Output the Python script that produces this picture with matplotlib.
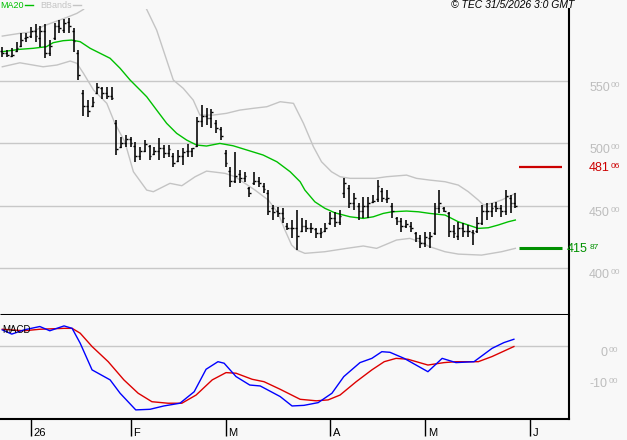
import matplotlib
matplotlib.use("Agg")   # no display in the sandbox
import matplotlib.pyplot as plt
from matplotlib.lines import Line2D

plt.rcParams["font.family"] = ["Liberation Sans", "DejaVu Sans"]

BG = "#f8f8f8"
GRID = "#c8c8c8"
LABEL_GREY = "#bdbdbd"

# ------------------------------------------------------------
# Daily OHLC (one bar per trading day)
# ------------------------------------------------------------
highs = [577.0, 574.6, 576.2, 581.0, 588.2, 588.2, 593.0, 595.4, 593.8, 595.4,
         582.6, 596.2, 598.6, 599.4, 600.2, 592.2, 574.6, 542.6, 534.5, 536.9,
         548.2, 545.0, 545.0, 545.0, 518.5, 504.9, 506.5, 504.9, 500.9, 496.9,
         502.5, 498.5, 496.9, 504.1, 498.5, 498.5, 492.1, 494.5, 496.1, 499.3,
         496.1, 520.9, 530.5, 528.1, 527.3, 518.5, 512.9, 494.5, 480.8, 492.9,
         478.4, 476.8, 464.8, 476.8, 472.8, 468.0, 462.4, 450.4, 448.8, 448.0,
         436.0, 438.4, 446.4, 440.0, 438.4, 436.0, 432.0, 432.0, 436.0, 444.8,
         444.8, 446.4, 472.0, 466.4, 460.0, 452.0, 456.8, 456.8, 458.4, 470.4,
         464.0, 462.4, 452.0, 440.8, 440.0, 438.4, 436.8, 428.8, 426.4, 428.8,
         428.8, 452.0, 462.4, 448.8, 444.8, 434.4, 436.8, 436.0, 434.4, 430.4,
         440.8, 450.4, 452.0, 452.0, 452.8, 450.4, 462.4, 458.4, 460.0]
lows = [569.0, 569.0, 569.0, 573.0, 577.0, 581.0, 584.2, 581.0, 577.0, 568.2,
        569.8, 582.6, 588.2, 588.2, 588.2, 573.0, 550.6, 521.7, 520.9, 528.9,
        539.3, 535.3, 535.3, 534.5, 490.5, 496.1, 496.9, 496.9, 484.9, 486.5,
        492.9, 486.5, 490.5, 486.5, 488.1, 488.9, 480.8, 484.9, 482.5, 488.9,
        488.9, 496.9, 512.9, 514.5, 512.1, 508.1, 502.5, 480.8, 464.8, 468.0,
        468.0, 468.8, 456.8, 466.4, 464.8, 460.0, 442.4, 438.4, 440.8, 436.0,
        430.4, 424.0, 414.4, 428.8, 428.8, 428.0, 424.0, 424.0, 428.8, 434.4,
        432.8, 434.4, 456.0, 448.0, 446.4, 438.4, 440.0, 440.0, 452.0, 452.8,
        452.8, 452.0, 440.0, 434.4, 428.8, 432.0, 428.8, 420.8, 416.0, 416.7,
        416.0, 426.4, 444.0, 444.8, 424.8, 424.0, 422.4, 424.8, 424.8, 418.4,
        428.0, 434.4, 438.4, 440.8, 444.8, 440.8, 442.4, 444.0, 448.0]
opens = [574, 572, 570, 574, 578, 584, 586, 590, 584, 590,
         572, 584, 594, 591, 597, 590, 572, 540, 530, 530,
         540, 544, 540, 538, 516, 497, 500, 503, 498, 490,
         494, 498, 491, 494, 496, 492, 490, 486, 490, 494,
         494, 498, 518, 522, 520, 516, 511, 492, 478, 470,
         475, 472, 464, 468, 470, 466, 460, 448, 446, 444,
         434, 432, 432, 430, 434, 432, 431, 428, 430, 436,
         440, 437, 460, 464, 452, 450, 446, 450, 453, 455,
         462, 455, 450, 440, 438, 434, 434, 428, 424, 420,
         424, 428, 448, 448, 444, 430, 426, 432, 430, 429,
         430, 436, 446, 446, 450, 448, 446, 456, 452]
closes = [572, 571, 571, 576, 583, 585, 590, 586, 590, 572,
          578, 594, 592, 596, 594, 582, 555, 530, 526, 533,
          545, 540, 538, 536, 495, 500, 503, 500, 490, 494,
          499, 490, 494, 496, 492, 495, 484, 490, 493, 494,
          496, 518, 522, 520, 525, 512, 506, 484, 470, 474,
          472, 474, 460, 470, 468, 463, 446, 445, 444, 440,
          432, 432, 426, 434, 432, 432, 428, 429, 432, 440,
          437, 442, 468, 452, 456, 446, 450, 452, 454, 466,
          456, 456, 446, 438, 434, 435, 432, 424, 420, 425,
          426, 448, 452, 446, 430, 428, 432, 430, 430, 428,
          436, 446, 446, 448, 448, 446, 458, 452, 450]

# MA20 and Bollinger bands, sampled along the curves (bar index, value)
ma20_idx = [0, 3.7, 6.5, 9.3, 10.7, 12.8, 14.6, 16.4, 18.5, 20.6, 22.7, 24.8,
            26.9, 29, 30.4, 32.5, 34.6, 36.7, 38.8, 40.9, 43, 45.8, 48.6, 51.5,
            54.9, 57.8, 60.6, 62.7, 63.7, 65.8, 67.9, 70, 73.2, 76, 78.1, 80.2,
            82, 85.1, 87.6, 90, 93.2, 96, 98.1, 100.2, 102.3, 104.4, 106.5, 108]
ma20_val = [573.3, 575.2, 576.0, 577.3, 580.5, 582.1, 582.6, 581.3, 576.0, 572.0,
            568.0, 560.0, 550.6, 542.6, 537.2, 526.5, 515.9, 507.9, 502.5, 498.5,
            497.7, 499.8, 497.9, 494.5, 490.5, 485.1, 477.1, 469.1, 462.4, 453.0,
            447.8, 444.2, 441.0, 439.7, 441.0, 443.7, 445.0, 445.6, 445.0, 443.7,
            442.4, 437.0, 434.4, 431.7, 432.2, 434.4, 437.0, 438.4]

bb_up_idx = [0, 3.7, 6.5, 8.6, 11.1, 13.6, 15.7, 17.1, 19, 21, 23, 25, 27, 29,
             30.4, 32.5, 34.6, 36, 38.1, 40.2, 41.6, 44.4, 47.2, 50, 52.8, 55.7,
             58.5, 61.3, 63.4, 65.5, 67.2, 69.3, 71.1, 73.2, 78.5, 80.9, 85.1,
             87.2, 90, 93.2, 96, 98.1, 100.2, 101.3, 103, 105.1, 107.3, 108]
bb_up_val = [585.8, 588.0, 589.3, 593.8, 597.3, 600.8, 604.0, 607.2, 617.0, 626.0,
             632.0, 633.0, 628.0, 617.0, 607.2, 590.6, 566.6, 550.6, 543.9, 534.5,
             522.5, 522.5, 523.9, 526.5, 527.9, 529.2, 533.2, 531.9, 515.9, 497.1,
             485.1, 477.1, 473.1, 471.8, 471.8, 473.1, 474.4, 471.8, 470.4, 469.1,
             466.4, 461.1, 454.4, 450.4, 451.8, 454.4, 458.4, 459.8]

bb_lo_idx = [0, 3.7, 8.6, 11.5, 14.3, 15.7, 17.1, 19.2, 22, 23.7, 25.8, 27.6,
             30.4, 31.8, 35.3, 37.8, 40.6, 43, 46.9, 49, 53.2, 56, 58.1, 59.5,
             60.9, 62, 63.7, 67.9, 72.5, 76, 78.8, 83, 85.8, 87.9, 90, 93.2, 96,
             100.9, 105.1, 108]
bb_lo_val = [561.2, 564.4, 561.2, 562.6, 565.8, 564.0, 555.9, 542.6, 531.9, 515.9,
             501.1, 477.1, 462.4, 461.1, 467.8, 465.9, 473.1, 477.6, 475.8, 473.1,
             462.4, 454.4, 443.7, 430.4, 418.4, 414.4, 411.7, 413.0, 415.7, 417.6,
             415.7, 422.4, 423.7, 421.0, 417.0, 413.0, 411.1, 410.3, 413.0, 415.7]

# MACD (blue) and its signal line (red)
macd_idx = [0, 2, 4.6, 7.9, 10, 13, 14.7, 16.4, 18.9, 22.7, 24.8, 28.1, 31.1, 34,
            37.4, 40.4, 42.9, 45.4, 46.7, 49.2, 52.1, 54.3, 58.5, 61, 63.5, 66.5,
            69.4, 71.9, 75.3, 77.8, 79.9, 81.6, 84.6, 87.1, 89.6, 92.6, 95.5,
            99.3, 103.1, 105.6, 107.7]
macd_val = [5.4, 4.0, 5.4, 6.5, 5.1, 6.7, 5.9, 1.0, -7.8, -11.1, -15.5, -21.0,
            -20.8, -19.7, -18.8, -15.0, -7.6, -5.1, -5.6, -10.0, -12.8, -13.1,
            -16.6, -19.7, -19.5, -18.6, -15.5, -10.0, -5.4, -4.0, -1.8, -2.0,
            -4.0, -6.2, -8.4, -4.0, -5.4, -5.1, -0.7, 1.2, 2.3]
signal_idx = [0, 4.6, 7.9, 13, 14.7, 16.4, 18.9, 22.3, 25.6, 28.6, 31.5, 34.9,
              37.8, 40.8, 44.2, 47.1, 49.2, 52.6, 55.1, 58.5, 62.7, 66.1, 68.6,
              71.1, 74.5, 77.8, 80.4, 82.9, 85.4, 89.6, 93, 95.5, 100.2, 103.1,
              107.7]
signal_val = [5.6, 5.1, 5.6, 5.9, 5.9, 4.3, -0.1, -5.1, -11.1, -15.5, -18.3, -18.8,
              -18.8, -16.1, -11.1, -8.7, -8.9, -10.9, -11.7, -14.2, -17.5, -18.0,
              -17.7, -16.1, -11.7, -7.8, -5.1, -4.0, -4.3, -6.2, -5.4, -5.1, -5.1,
              -3.4, -0.1]

# axis labels / levels
month_pos = [6, 27, 47, 69, 89, 111]
month_labels = ["26", "F", "M", "A", "M", "J"]
price_ticks = [400, 450, 500, 550]
macd_ticks = [0, -10]
resistance = 481.06
support = 415.87

# ------------------------------------------------------------
# Figure layout (pixel boxes of the original 627x440 image)
# ------------------------------------------------------------
W, H = 627, 440
fig = plt.figure(figsize=(W / 100, H / 100), dpi=100, facecolor=BG)


def px_box(x0, y0, x1, y1):
    return [x0 / W, 1 - y1 / H, (x1 - x0) / W, (y1 - y0) / H]


ax = fig.add_axes(px_box(0, 9, 569, 315))
axm = fig.add_axes(px_box(0, 315, 569, 419), sharex=ax)

for a in (ax, axm):
    a.set_facecolor(BG)
    a.spines["left"].set_visible(False)
    a.spines["right"].set_color("black")
    a.spines["right"].set_linewidth(1.5)
    a.tick_params(left=False, right=False, labelleft=False, labelright=False)
ax.spines["top"].set_visible(False)
ax.spines["bottom"].set_linewidth(2.2)
ax.spines["bottom"].set_capstyle("butt")
axm.spines["top"].set_visible(False)
axm.spines["bottom"].set_linewidth(1.5)

ax.set_xlim(-0.48, 119.3)
ax.set_ylim(362.3, 607.5)
axm.set_ylim(-24.0, 10.3)

# --- price panel ---
for p in price_ticks:
    ax.axhline(p, color=GRID, lw=1, zorder=0)

ax.plot(bb_up_idx, bb_up_val, color="#c4c4c4", lw=1, zorder=1)
ax.plot(bb_lo_idx, bb_lo_val, color="#c4c4c4", lw=1, zorder=1)
ax.plot(ma20_idx, ma20_val, color="#00c000", lw=1, zorder=2)

xs = list(range(len(highs)))
ax.vlines(xs, lows, highs, color="black", lw=1.15, zorder=3)
ax.hlines(opens, [x - 0.4 for x in xs], xs, color="black", lw=1, zorder=3)
ax.hlines(closes, xs, [x + 0.4 for x in xs], color="black", lw=1, zorder=3)

ax.hlines(resistance, 108.8, 117.8, color="#cc0000", lw=1.6)
ax.hlines(support, 108.8, 117.8, color="#009000", lw=2.2)
ax.tick_params(bottom=False, labelbottom=False)


def right_label(axis, value, dx_main, color, size_main=9, size_sup=6, va="top", dy=-0.7):
    whole = "%d" % int(value) if value >= 0 else "-%d" % int(abs(value))
    cents = "%02d" % round(abs(value) % 1 * 100)
    axis.annotate(whole, xy=(1, value), xycoords=("axes fraction", "data"),
                  xytext=(dx_main, dy), textcoords="offset points",
                  ha="right", va=va, color=color, fontsize=size_main,
                  annotation_clip=False)
    axis.annotate(cents, xy=(1, value), xycoords=("axes fraction", "data"),
                  xytext=(dx_main + 0.8, dy + (1.2 if va == "center" else 0)),
                  textcoords="offset points",
                  ha="left", va=va, color=color, fontsize=size_sup,
                  annotation_clip=False)


for p in price_ticks:
    right_label(ax, p, 29.5, LABEL_GREY)
right_label(ax, resistance, 29.5, "#cc0000", va="center", dy=-0.8)
right_label(ax, support, 13.7, "#009000", va="center", dy=-0.8)

# --- MACD panel ---
axm.axhline(0, color=GRID, lw=1, zorder=0)
axm.plot(signal_idx, signal_val, color="#dd0000", lw=1)
axm.plot(macd_idx, macd_val, color="#0000ff", lw=1)
axm.text(0.004, 0.86, "MACD", transform=axm.transAxes, fontsize=7,
         color="black", va="center", ha="left")
for m in macd_ticks:
    right_label(axm, m, 27.4, LABEL_GREY)

axm.set_xticks(month_pos)
axm.set_xticklabels([])
axm.tick_params(axis="x", direction="out", length=12.5, width=1, color="black",
                bottom=True)
for pos, lab in zip(month_pos, month_labels):
    axm.annotate(lab, xy=(pos, 0), xycoords=("data", "axes fraction"),
                 xytext=(2.0, -6.5), textcoords="offset points",
                 ha="left", va="top", fontsize=8, color="black",
                 annotation_clip=False)

# --- header: legend and copyright ---
fig.text(0 / W, 1 - 5 / H, "MA20", color="#00c000", fontsize=6.5, va="center", ha="left")
fig.add_artist(Line2D([25 / W, 33 / W], [1 - 5 / H, 1 - 5 / H], color="#00c000", lw=1))
fig.text(40 / W, 1 - 5 / H, "BBands", color="#c4c4c4", fontsize=6.5, va="center", ha="left")
fig.add_artist(Line2D([73 / W, 81 / W], [1 - 5 / H, 1 - 5 / H], color="#c4c4c4", lw=1))
fig.text(574 / W, 1 - 5 / H, "\u00a9 TEC 31/5/2026 3:0 GMT", fontsize=7.5,
         style="italic", color="black", va="center", ha="right")

fig.savefig("out.png", dpi=100, facecolor=BG)
print("Saved plot: out.png")
